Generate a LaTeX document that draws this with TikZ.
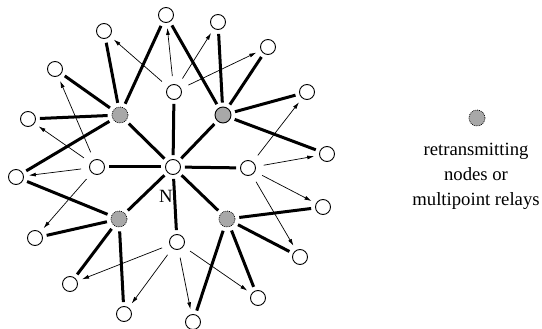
\documentclass[tikz,border=0pt]{standalone}
\usepackage{fontspec}
\setmainfont{Liberation Serif}
\usetikzlibrary{arrows.meta}
\usepackage{xcolor}
\definecolor{relaygray}{RGB}{168,168,168}

\begin{document}
\begin{tikzpicture}[x=1pt, y=-1pt,
    host/.style={circle, draw, fill=white, line width=0.9pt, minimum size=15pt, inner sep=0pt},
    relay/.style={host, fill=relaygray, minimum size=16pt},
    dotrelay/.style={relay, densely dotted, line width=0.7pt},
    link/.style={line width=3pt, shorten <=4pt, shorten >=4pt},
    flood/.style={-{Latex[length=7pt,width=4pt]}, line width=0.7pt, shorten <=8pt, shorten >=5pt}]

    \useasboundingbox (0,0) rectangle (542,329);

    % source node and its one-hop neighbours
    \node [host] (src) at (173,167) {};
    \node [host] (nt) at (174,92) {};
    \node [host] (nl) at (97,167) {};
    \node [host] (nr) at (248,168) {};
    \node [host] (nb) at (177,242) {};
    \node [font=\fontsize{18.7}{22}\selectfont] (srclabel) at (166,196) {N};

    % multipoint relays
    \node [dotrelay] (mul) at (120,115) {};
    \node [relay] (mur) at (223,115) {};
    \node [dotrelay] (mll) at (119,219) {};
    \node [dotrelay] (mlr) at (227,219) {};

    % two-hop neighbours
    \node [host] (h1) at (104,31) {};
    \node [host] (h2) at (166,15) {};
    \node [host] (h3) at (218,22) {};
    \node [host] (h4) at (268,47) {};
    \node [host] (h5) at (55,69) {};
    \node [host] (h6) at (307,92) {};
    \node [host] (h7) at (28,119) {};
    \node [host] (h8) at (327,154) {};
    \node [host] (h9) at (16,177) {};
    \node [host] (h10) at (35,238) {};
    \node [host] (h11) at (323,207) {};
    \node [host] (h12) at (70,284) {};
    \node [host] (h13) at (300,257) {};
    \node [host] (h14) at (124,314) {};
    \node [host] (h15) at (258,298) {};
    \node [host] (h16) at (193,322) {};

    % retransmissions
    \draw [link] (src) -- (nt);
    \draw [link] (src) -- (nl);
    \draw [link] (src) -- (nr);
    \draw [link] (src) -- (nb);
    \draw [link] (src) -- (mul);
    \draw [link] (src) -- (mur);
    \draw [link] (src) -- (mll);
    \draw [link] (src) -- (mlr);

    \draw [link] (mul) -- (h1);
    \draw [link] (mul) -- (h2);
    \draw [link] (mul) -- (h5);
    \draw [link] (mul) -- (h7);
    \draw [link] (mul) -- (h9);

    \draw [link] (mur) -- (h2);
    \draw [link] (mur) -- (h3);
    \draw [link] (mur) -- (h4);
    \draw [link] (mur) -- (h6);
    \draw [link] (mur) -- (h8);

    \draw [link] (mll) -- (h9);
    \draw [link] (mll) -- (h10);
    \draw [link] (mll) -- (h12);
    \draw [link] (mll) -- (h14);

    \draw [link] (mlr) -- (h11);
    \draw [link] (mlr) -- (h13);
    \draw [link] (mlr) -- (h15);
    \draw [link] (mlr) -- (h16);

    % plain flooding
    \draw [flood] (nt) -- (h1);
    \draw [flood] (nt) -- (h2);
    \draw [flood] (nt) -- (h3);
    \draw [flood] (nt) -- (h4);

    \draw [flood] (nl) -- (h5);
    \draw [flood] (nl) -- (h7);
    \draw [flood] (nl) -- (h9);
    \draw [flood] (nl) -- (h10);

    \draw [flood] (nr) -- (h6);
    \draw [flood] (nr) -- (h8);
    \draw [flood] (nr) -- (h11);
    \draw [flood] (nr) -- (h13);

    \draw [flood] (nb) -- (h12);
    \draw [flood] (nb) -- (h14);
    \draw [flood] (nb) -- (h15);
    \draw [flood] (nb) -- (h16);

    % legend
    \node [dotrelay] (legendrelay) at (477,118) {};
    \node [align=center, inner sep=0pt, font=\fontsize{18.7}{25}\selectfont] (legendtext) at (476,176)
        {retransmitting\\nodes or\\multipoint relays};
\end{tikzpicture}
\end{document}
